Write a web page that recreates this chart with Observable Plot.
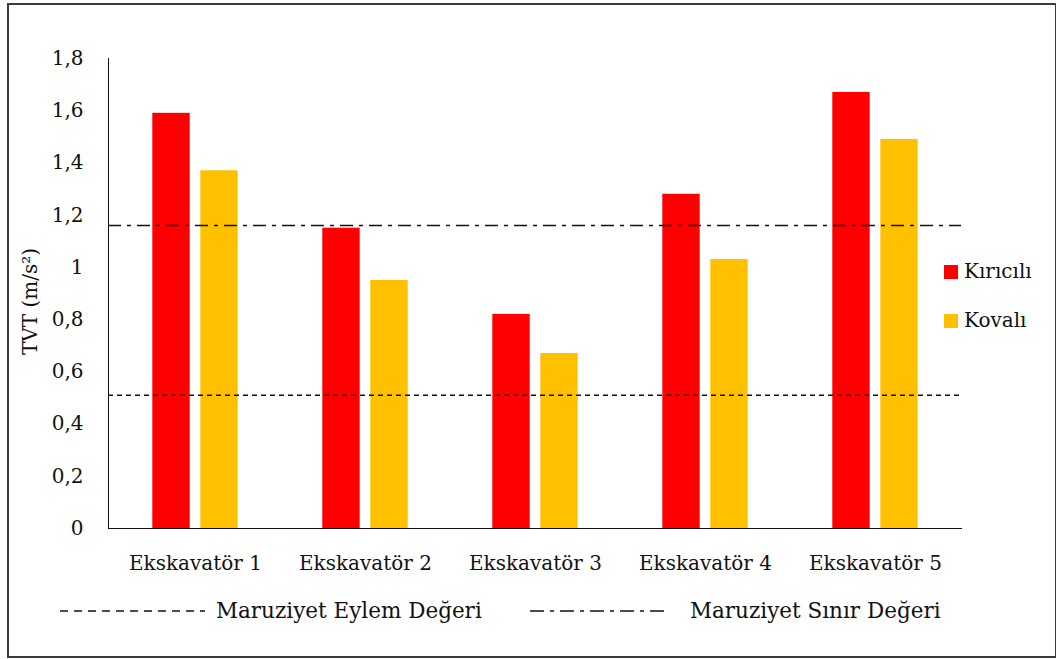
<!DOCTYPE html>
<html>
<head>
<meta charset="utf-8">
<script src="https://cdn.jsdelivr.net/npm/d3@7"></script>
<script src="https://cdn.jsdelivr.net/npm/@observablehq/plot@0.6"></script>
<style>
  body { margin: 0; background: #fff; }
  #wrap { position: relative; width: 1056px; height: 659px; overflow: hidden; font-family: "DejaVu Serif", serif; color: #111; }
  #chart { position: absolute; left: 0; top: 0; }
  #frame { position: absolute; left: 7px; top: 3px; width: 1050px; height: 655px; border: 2px solid #3a3a3a; box-sizing: border-box; pointer-events: none; }
  .leg { position: absolute; font-size: 20px; line-height: 22px; white-space: nowrap; }
  .sw { position: absolute; width: 14px; height: 14px; }
  .bl { position: absolute; }
</style>
</head>
<body>
<div id="wrap">
  <div id="chart"></div>
  <div id="legendRight"></div>
  <div id="legendBottom"></div>
  <div id="frame"></div>
</div>
<script>
// ---- data ----
const machines = ["Ekskavatör 1", "Ekskavatör 2", "Ekskavatör 3", "Ekskavatör 4", "Ekskavatör 5"];
const kiricili = [1.59, 1.15, 0.82, 1.28, 1.67];
const kovali   = [1.37, 0.95, 0.67, 1.03, 1.49];
const seriesNames = ["Kırıcılı", "Kovalı"];
const seriesColors = ["#FF0000", "#FFC000"];
const eylemDegeri = [0.51];
const sinirDegeri = [1.16];
const limitNames = ["Maruziyet Eylem Değeri", "Maruziyet Sınır Değeri"];
const yTicks = [0, 0.2, 0.4, 0.6, 0.8, 1, 1.2, 1.4, 1.6, 1.8];
const yLabel = "TVT (m/s²)";

const rows = machines.flatMap((m, i) => [
  {machine: m, type: seriesNames[0], value: kiricili[i]},
  {machine: m, type: seriesNames[1], value: kovali[i]}
]);

const fmt = d => String(+d.toFixed(1)).replace(".", ",");

const chart = Plot.plot({
  width: 1056,
  height: 600,
  marginTop: 58,
  marginLeft: 108,
  marginRight: 95,
  marginBottom: 72,
  style: {fontFamily: "DejaVu Serif", fontSize: "20px", color: "#111", background: "transparent"},
  x: {domain: machines, padding: 0, label: null, tickSize: 0, tickPadding: 27, line: true},
  y: {domain: [0, 1.8], ticks: yTicks, tickFormat: fmt, tickSize: 0, tickPadding: 25, label: null, line: true},
  marks: [
    Plot.barY(rows.filter(d => d.type === seriesNames[0]), {x: "machine", y: "value", fill: seriesColors[0], insetLeft: 42.3, insetRight: 90.3}),
    Plot.barY(rows.filter(d => d.type === seriesNames[1]), {x: "machine", y: "value", fill: seriesColors[1], insetLeft: 90.3, insetRight: 42.3}),
    Plot.ruleY(eylemDegeri, {stroke: "#111", strokeWidth: 1.5, strokeDasharray: "5,4"}),
    Plot.ruleY(sinirDegeri, {stroke: "#111", strokeWidth: 1.5, strokeDasharray: "13,6,4,6"}),
    Plot.text([yLabel], {frameAnchor: "left", textAnchor: "middle", rotate: -90, dx: -78, dy: 8, fontSize: 20, fill: "#111"})
  ]
});
document.getElementById("chart").appendChild(chart);

// right legend
const lr = document.getElementById("legendRight");
seriesNames.forEach((name, i) => {
  const top = 265 + i * 49;
  const sw = document.createElement("div");
  sw.className = "sw";
  sw.style.left = "944px"; sw.style.top = top + "px"; sw.style.background = seriesColors[i];
  lr.appendChild(sw);
  const t = document.createElement("div");
  t.className = "leg";
  t.style.left = "964px"; t.style.top = (top - 5) + "px";
  t.textContent = name;
  lr.appendChild(t);
});

// bottom legend
const lb = document.getElementById("legendBottom");
const samples = [
  {x: 60, w: 145, dash: "8,6", tx: 216, fs: 21.5},
  {x: 530, w: 138, dash: "14,6,4,6", tx: 690, fs: 21.5}
];
samples.forEach((s, i) => {
  const svg = d3.create("svg").attr("class", "bl").attr("width", s.w).attr("height", 6)
    .style("left", s.x + "px").style("top", "608px");
  svg.append("line").attr("x1", 0).attr("x2", s.w).attr("y1", 3).attr("y2", 3)
    .attr("stroke", "#111").attr("stroke-width", 1.5).attr("stroke-dasharray", s.dash);
  lb.appendChild(svg.node());
  const t = document.createElement("div");
  t.className = "leg";
  t.style.left = s.tx + "px"; t.style.top = "600px"; t.style.fontSize = s.fs + "px";
  t.textContent = limitNames[i];
  lb.appendChild(t);
});
</script>
</body>
</html>
